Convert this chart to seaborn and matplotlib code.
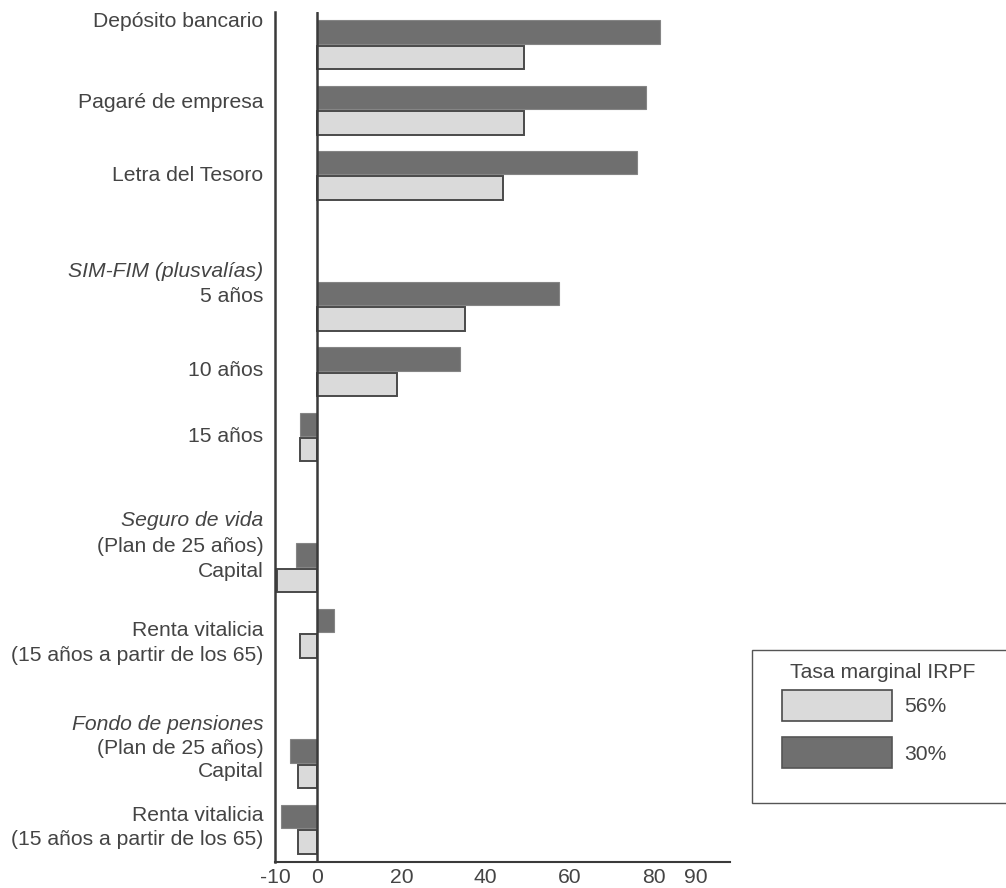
import matplotlib
matplotlib.use("Agg")
import matplotlib.pyplot as plt
import matplotlib.transforms as mtransforms
from matplotlib.patches import Patch, Rectangle
import numpy as np
import pandas as pd
import seaborn as sns

# ---------------- data ----------------
productos = ["Depósito bancario", "Pagaré de empresa", "Letra del Tesoro",
             "SIM-FIM 5 años", "SIM-FIM 10 años", "SIM-FIM 15 años",
             "Seguro de vida Capital", "Seguro de vida Renta vitalicia",
             "Fondo de pensiones Capital", "Fondo de pensiones Renta vitalicia"]
tasa_30 = [81.5, 78, 76, 57.5, 34, -4, -5, 4, -6.5, -8.5]
tasa_56 = [49, 49, 44, 35, 19, -4, -9.5, -4, -4.5, -4.5]
series = ["30%", "56%"]
xticks = [-10, 0, 20, 40, 60, 80, 90]
legend_title = "Tasa marginal IRPF"

# ---------------- layout ----------------
slots = [0, 1, 2, 4, 5, 6, 8, 9, 11, 12]
labels = [
    ("Depósito bancario", -0.36, "normal"),
    ("Pagaré de empresa", 0.88, "normal"),
    ("Letra del Tesoro", 2.0, "normal"),
    ("SIM-FIM (plusvalías)", 3.47, "italic"),
    ("5 años", 3.85, "normal"),
    ("10 años", 4.99, "normal"),
    ("15 años", 5.99, "normal"),
    ("Seguro de vida", 7.27, "italic"),
    ("(Plan de 25 años)", 7.67, "normal"),
    ("Capital", 8.05, "normal"),
    ("Renta vitalicia", 8.96, "normal"),
    ("(15 años a partir de los 65)", 9.34, "normal"),
    ("Fondo de pensiones", 10.39, "italic"),
    ("(Plan de 25 años)", 10.76, "normal"),
    ("Capital", 11.11, "normal"),
    ("Renta vitalicia", 11.79, "normal"),
    ("(15 años a partir de los 65)", 12.15, "normal"),
]

DARK = "#6f6f6f"
LIGHT = "#dadada"
EDGE = "#4a4a4a"
TXT = "#444444"
FS = 15.2

sns.set_style("white")
plt.rcParams["font.family"] = ["Liberation Sans", "DejaVu Sans"]

df = pd.DataFrame({
    "pos": slots * 2,
    "valor": tasa_30 + tasa_56,
    "tasa": [series[0]] * len(slots) + [series[1]] * len(slots),
})

W, H = 1006, 888
fig = plt.figure(figsize=(W / 100, H / 100), dpi=100)
ax = fig.add_axes([275 / W, (H - 862) / H, 455 / W, 850 / H])

sns.barplot(data=df, x="valor", y="pos", hue="tasa", hue_order=series,
            orient="y", native_scale=True,
            palette={series[0]: DARK, series[1]: LIGHT},
            width=0.78, gap=0.08, ax=ax, legend=False, errorbar=None)

for bar in ax.containers[0]:
    bar.set_edgecolor("#858585")
    bar.set_linewidth(0.8)
for bar in ax.containers[1]:
    bar.set_edgecolor(EDGE)
    bar.set_linewidth(1.4)

ax.set_xlim(-10, 98)
ax.set_ylim(12.5, -0.5)
ax.axvline(0, color="#3a3a3a", lw=1.8, zorder=5)

for s in ["top", "right"]:
    ax.spines[s].set_visible(False)
ax.spines["left"].set_color("#3a3a3a")
ax.spines["left"].set_linewidth(1.8)
ax.spines["bottom"].set_color("#3a3a3a")
ax.spines["bottom"].set_linewidth(1.5)

ax.set_yticks([])
ax.set_ylabel("")
ax.set_xlabel("")
ax.set_xticks(xticks)
ax.set_xticklabels([str(t) for t in xticks], fontsize=FS, color=TXT)
ax.tick_params(axis="x", length=0, pad=4)

trans = mtransforms.blended_transform_factory(ax.transAxes, ax.transData)
for text, y, style in labels:
    ax.text(-0.026, y, text, transform=trans, ha="right", va="center",
            fontsize=FS, style=style, color=TXT)

# legend
fig.patches.append(Rectangle((752 / W, 1 - 803 / H), (1010 - 752) / W,
                             (803 - 650) / H, transform=fig.transFigure,
                             facecolor="white", edgecolor="#555555",
                             linewidth=1.0, zorder=0))
fig.text(790 / W, 1 - 673 / H, legend_title, ha="left", va="center",
         fontsize=FS, color=TXT)
handles = [Patch(facecolor=LIGHT, edgecolor=EDGE, linewidth=1.2),
           Patch(facecolor=DARK, edgecolor="#555555", linewidth=1.2)]
leg = fig.legend(handles, [series[1], series[0]],
                 loc="upper left", bbox_to_anchor=(782 / W, 1 - 690 / H),
                 frameon=False, fontsize=FS,
                 handlelength=5.2, handleheight=1.85, labelspacing=0.8,
                 handletextpad=0.6, borderpad=0.0, borderaxespad=0)
for t in leg.get_texts():
    t.set_color(TXT)

fig.savefig("out.png", dpi=100)
